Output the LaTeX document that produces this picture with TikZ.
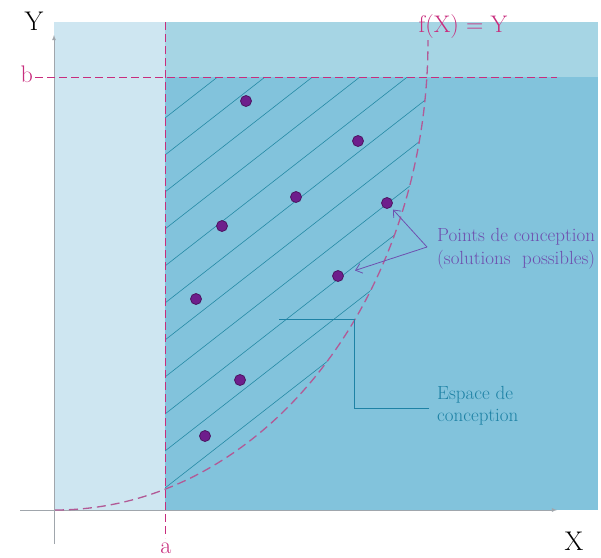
\documentclass[tikz,border=0pt]{standalone}
\usepackage{amsmath}
\usepackage{tikz}
\usetikzlibrary{calc}
\usetikzlibrary{arrows.meta}

\definecolor{paleblue}{RGB}{206,230,241}
\definecolor{bandblue}{RGB}{166,213,228}
\definecolor{mainblue}{RGB}{130,195,220}
\definecolor{hatchteal}{RGB}{38,138,165}
\definecolor{boundred}{RGB}{200,45,125}
\definecolor{curvepink}{RGB}{178,90,150}
\definecolor{dotpurple}{RGB}{110,30,140}
\definecolor{notepurple}{RGB}{110,80,175}
\definecolor{noteteal}{RGB}{30,130,165}
\definecolor{axisgray}{RGB}{160,166,172}

\tikzset{
  designpt/.style={circle, fill=dotpurple, draw=dotpurple!70!black, line width=0.8pt, inner sep=0pt, minimum size=11pt},
  boundlabel/.style={text=boundred, inner sep=0pt, font=\fontsize{24}{26}\selectfont},
  axislabel/.style={inner sep=0pt, font=\fontsize{27}{29}\selectfont},
  boundline/.style={boundred, line width=0.9pt, dash pattern=on 8pt off 4pt}
}

\begin{document}
\begin{tikzpicture}[x=1pt,y=-1pt,>=latex]
\useasboundingbox (0,0) rectangle (601,557);
\fill[paleblue] (54,22) rectangle (165,510);
\fill[bandblue] (165,22) rectangle (598,77);
\fill[mainblue] (165,77) rectangle (598,510);

\begin{scope}
\clip (165,77) rectangle (598,510);
\clip (55,40) ellipse[x radius=373, y radius=470];
\foreach \k in {0,...,11}
  \draw[hatchteal, line width=0.6pt] (165,118+37*\k) -- ++(500,-390);
\end{scope}

\coordinate (yfoot) at (54,544);
\coordinate (ytip) at (54,35);
\coordinate (xfoot) at (20,510);
\coordinate (xtip) at (557,510);
\draw[axisgray, line width=0.8pt, ->] (yfoot) -- (ytip);
\draw[axisgray, line width=0.8pt, ->] (xfoot) -- (xtip);

\coordinate (bstart) at (35,77);
\coordinate (bend) at (557,77);
\coordinate (atop) at (165,22);
\coordinate (abottom) at (165,538);
\draw[boundline] (bstart) -- (bend);
\draw[boundline] (atop) -- (abottom);
\draw[curvepink, line width=1.3pt, dash pattern=on 9pt off 5pt] (55,510) arc[start angle=90, end angle=0, x radius=373, y radius=470];

\node[axislabel, anchor=base, name=ylabel] at (34,30) {Y};
\node[axislabel, anchor=base, name=xlabel] at (574,550) {X};
\node[boundlabel, anchor=base east, name=blabel] at (33,82) {b};
\node[boundlabel, anchor=base, name=alabel] at (166,553) {a};
\node[boundlabel, anchor=base, name=flabel] at (463,32) {f(X) = Y};

\node[designpt, name=p1] at (246,101) {};
\node[designpt, name=p2] at (358,141) {};
\node[designpt, name=p3] at (296,197) {};
\node[designpt, name=p4] at (387,203) {};
\node[designpt, name=p5] at (222,226) {};
\node[designpt, name=p6] at (338,276) {};
\node[designpt, name=p7] at (196,299) {};
\node[designpt, name=p8] at (240,380) {};
\node[designpt, name=p9] at (205,436) {};

\node[name=ptsnote, anchor=west, align=left, inner sep=0pt, text=notepurple, font=\fontsize{19}{23}\selectfont] at (437,249) {Points de conception\\(solutions\ \ possibles)};
\node[name=espnote, anchor=west, align=left, inner sep=0pt, text=noteteal, font=\fontsize{19}{22}\selectfont] at (437,406) {Espace de\\conception};

\coordinate (fork) at ($(ptsnote.west)+(-10,-2)$);
\draw[notepurple, line width=0.8pt] (fork) edge[-{Straight Barb[length=6pt,width=10pt]}, shorten >=3pt] (p4) edge[-{Straight Barb[length=6pt,width=10pt]}, shorten >=12pt] (p6);

\coordinate (espcorner) at (354,319);
\coordinate (espend) at (279,319);
\draw[noteteal, line width=0.8pt] ($(espnote.west)+(-8,2)$) -| (espcorner) -- (espend);
\end{tikzpicture}
\end{document}
